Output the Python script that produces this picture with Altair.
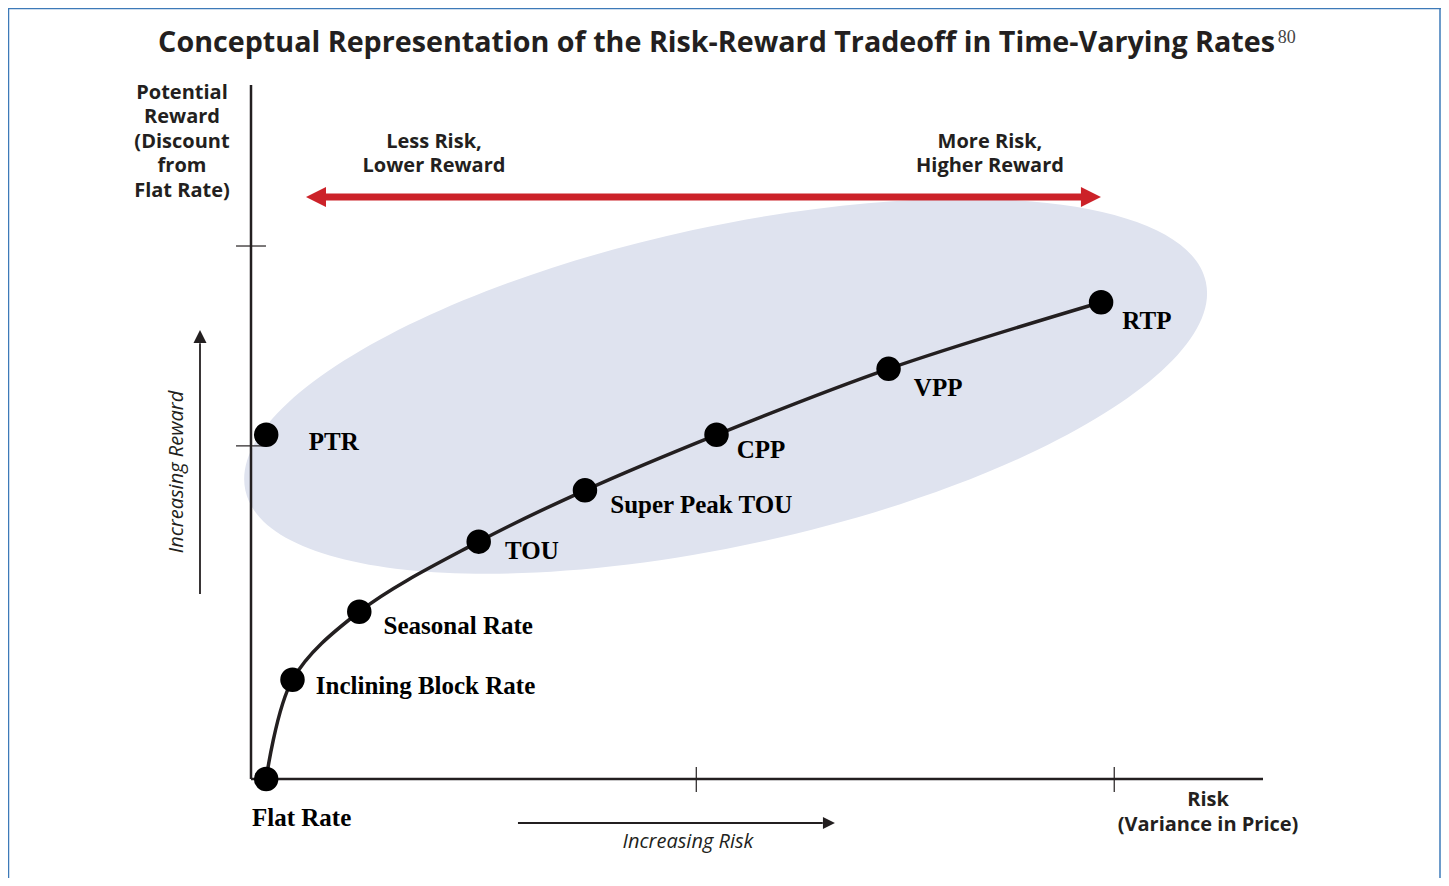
import altair as alt
import pandas as pd

# ---------------- data (conceptual units: risk 0-100, reward 0-100) ----------------
rates = ["Flat Rate", "Inclining Block Rate", "Seasonal Rate", "TOU",
         "Super Peak TOU", "CPP", "VPP", "RTP"]
risk = [1.5, 4.1, 10.7, 22.5, 33.0, 46.0, 63.0, 84.0]
reward = [0.0, 14.3, 24.1, 34.2, 41.6, 49.6, 59.1, 68.7]

ptr_name = ["PTR"]
ptr_risk = [1.5]
ptr_reward = [49.6]

label_names = ["Flat Rate", "Inclining Block Rate", "Seasonal Rate", "TOU",
               "Super Peak TOU", "CPP", "VPP", "RTP", "PTR"]
label_x = [0.1, 6.4, 13.1, 25.1, 35.5, 48.0, 65.5, 86.1, 5.7]
label_y = [-5.6, 13.4, 22.1, 32.9, 39.5, 47.4, 56.3, 66.0, 48.6]

x_tick_vals = [44.0, 85.3]
y_tick_vals = [76.8, 48.0]

# ---------------- styles ----------------
INK = "#231f20"
RED = "#cc2229"
LAV = "#dfe3ef"
FRAME = "#3d7ab8"
SANS = "Open Sans"
SERIF = "Liberation Serif"

xs = alt.Scale(domain=[0, 100], range=[243, 1255], nice=False, zero=False)
ys = alt.Scale(domain=[0, 100], range=[771, 77], nice=False, zero=False)


def X(f="x"):
    return alt.X(f"{f}:Q", scale=xs, axis=None)


def Y(f="y"):
    return alt.Y(f"{f}:Q", scale=ys, axis=None)


def X2(f="x2"):
    return alt.X2(f"{f}:Q")


def Y2(f="y2"):
    return alt.Y2(f"{f}:Q")


# frame (decorative border)
frame_df = pd.DataFrame({"k": [0]})
frame = alt.layer(
    alt.Chart(frame_df).mark_rule(color=FRAME, strokeWidth=1.5).encode(
        x=alt.value(0.5), x2=alt.value(0.5), y=alt.value(0), y2=alt.value(870)),
    alt.Chart(frame_df).mark_rule(color=FRAME, strokeWidth=1.5).encode(
        x=alt.value(0), x2=alt.value(1433), y=alt.value(0.5), y2=alt.value(0.5)),
    alt.Chart(frame_df).mark_rule(color=FRAME, strokeWidth=1.5).encode(
        x=alt.value(1432), x2=alt.value(1432), y=alt.value(0), y2=alt.value(870)),
)

# ellipse (risk-reward zone)
r = 0.3245
k = 0.5523
kr = k * r
ell_path = (f"M-1,0 C-1,{-kr:.4f} {-k},{-r} 0,{-r} C{k},{-r} 1,{-kr:.4f} 1,0 "
            f"C1,{kr:.4f} {k},{r} 0,{r} C{-k},{r} -1,{kr:.4f} -1,0 Z")
ell_df = pd.DataFrame({"x": [46.9], "y": [56.6]})
ellipse = alt.Chart(ell_df).mark_point(
    shape=ell_path, filled=True, opacity=1, color=LAV, strokeWidth=0,
    size=966000, angle=347.75
).encode(x=X(), y=Y())

# red double arrow
red_df = pd.DataFrame({"x": [6.8], "x2": [82.6], "y": [83.86]})
red_shaft = alt.Chart(red_df).mark_rule(color=RED, strokeWidth=7).encode(
    x=X(), x2=X2(), y=Y())
head_l = "M-1,0 L1,-1 L1,1 Z"
head_r = "M1,0 L-1,-1 L-1,1 Z"
head_u = "M0,-1 L1,1 L-1,1 Z"
red_l = alt.Chart(pd.DataFrame({"x": [6.42], "y": [83.86]})).mark_point(
    shape=head_l, filled=True, opacity=1, color=RED, size=400, strokeWidth=0
).encode(x=X(), y=Y())
red_r = alt.Chart(pd.DataFrame({"x": [83.0], "y": [83.86]})).mark_point(
    shape=head_r, filled=True, opacity=1, color=RED, size=400, strokeWidth=0
).encode(x=X(), y=Y())

# axes lines
ax_df = pd.DataFrame({"x": [0, 0], "x2": [0, 100], "y": [0, 0], "y2": [100, 0]})
axes = alt.Chart(ax_df).mark_rule(color=INK, strokeWidth=2.5).encode(
    x=X(), x2=X2(), y=Y(), y2=Y2())
xt_df = pd.DataFrame({"x": x_tick_vals, "y": [-1.87] * 2, "y2": [1.73] * 2})
xticks = alt.Chart(xt_df).mark_rule(color=INK, strokeWidth=1.2).encode(
    x=X(), y=Y(), y2=Y2())
yt_df = pd.DataFrame({"y": y_tick_vals, "x": [-1.48] * 2, "x2": [1.48] * 2})
yticks = alt.Chart(yt_df).mark_rule(color=INK, strokeWidth=1.2).encode(
    y=Y(), x=X(), x2=X2())

# "increasing" arrows
up_shaft = alt.Chart(pd.DataFrame({"x": [-5.04], "y": [26.66], "y2": [62.8]})).mark_rule(
    color=INK, strokeWidth=1.8).encode(x=X(), y=Y(), y2=Y2())
up_head = alt.Chart(pd.DataFrame({"x": [-5.04], "y": [63.76]})).mark_point(
    shape=head_u, filled=True, opacity=1, color=INK, size=169, strokeWidth=0
).encode(x=X(), y=Y())
rt_shaft = alt.Chart(pd.DataFrame({"x": [26.38], "x2": [56.5], "y": [-6.34]})).mark_rule(
    color=INK, strokeWidth=1.8).encode(x=X(), x2=X2(), y=Y())
rt_head = alt.Chart(pd.DataFrame({"x": [57.11], "y": [-6.34]})).mark_point(
    shape=head_r, filled=True, opacity=1, color=INK, size=144, strokeWidth=0
).encode(x=X(), y=Y())

# curve and points
curve_df = pd.DataFrame({"name": rates, "x": risk, "y": reward, "o": list(range(len(rates)))})
curve = alt.Chart(curve_df).mark_line(color=INK, strokeWidth=3.5, interpolate="catmull-rom").encode(
    x=X(), y=Y(), order="o:Q")
pts_df = pd.DataFrame({"name": rates + ptr_name, "x": risk + ptr_risk, "y": reward + ptr_reward})
points = alt.Chart(pts_df).mark_circle(color="#000000", size=600, opacity=1).encode(
    x=X(), y=Y())

lab_df = pd.DataFrame({"name": label_names, "x": label_x, "y": label_y})
labels = alt.Chart(lab_df).mark_text(
    align="left", baseline="middle", font=SERIF, fontWeight="bold", fontSize=25, color="#000000"
).encode(x=X(), y=Y(), text="name:N")

# annotation texts (sans bold, multi-line blocks; y = first line)
ann_text = ["Less Risk,\nLower Reward", "More Risk,\nHigher Reward",
            "Risk\n(Variance in Price)"]
ann_x = [18.08, 73.02, 94.57]
ann_y = [91.79, 91.79, -3.03]
ann_df = pd.DataFrame({"t": ann_text, "x": ann_x, "y": ann_y})
ann = alt.Chart(ann_df).mark_text(
    align="center", baseline="middle", font=SANS, fontWeight="bold", fontSize=20, color=INK,
    lineBreak="\n", lineHeight=24.5
).encode(x=X(), y=Y(), text="t:N")

ylab = alt.Chart(pd.DataFrame({"t": ["Potential\nReward\n(Discount\nfrom\nFlat Rate)"],
                               "x": [-6.82], "y": [98.85]})).mark_text(
    align="center", baseline="middle", font=SANS, fontWeight="bold", fontSize=20, color=INK,
    lineBreak="\n", lineHeight=24.5
).encode(x=X(), y=Y(), text="t:N")

inc_risk = alt.Chart(pd.DataFrame({"t": ["Increasing Risk"], "x": [43.18], "y": [-9.08]})).mark_text(
    align="center", baseline="middle", font=SANS, fontStyle="italic", fontSize=20, color=INK
).encode(x=X(), y=Y(), text="t:N")
inc_rew = alt.Chart(pd.DataFrame({"t": ["Increasing Reward"], "x": [-7.31], "y": [44.24]})).mark_text(
    align="center", baseline="middle", font=SANS, fontStyle="italic", fontSize=20, color=INK, angle=270
).encode(x=X(), y=Y(), text="t:N")

title = alt.Chart(pd.DataFrame({
    "t": ["Conceptual Representation of the Risk-Reward Tradeoff in Time-Varying Rates"],
    "x": [101.19], "y": [106.05]})).mark_text(
    align="right", baseline="middle", font=SANS, fontWeight="bold", fontSize=28.7, color=INK
).encode(x=X(), y=Y(), text="t:N")
sup = alt.Chart(pd.DataFrame({"t": ["80"], "x": [101.45], "y": [106.8]})).mark_text(
    align="left", baseline="middle", font=SERIF, fontSize=18, color="#444444"
).encode(x=X(), y=Y(), text="t:N")

chart = alt.layer(
    frame, ellipse, red_shaft, red_l, red_r, axes, xticks, yticks,
    up_shaft, up_head, rt_shaft, rt_head, curve, points, labels,
    ann, ylab, inc_risk, inc_rew, title, sup
).properties(
    width=1433, height=870, padding=0,
    autosize=alt.AutoSizeParams(type="none")
).configure_view(stroke=None).configure(background="white")

chart.save("out.html", embed_options={"renderer": "svg", "actions": False})
